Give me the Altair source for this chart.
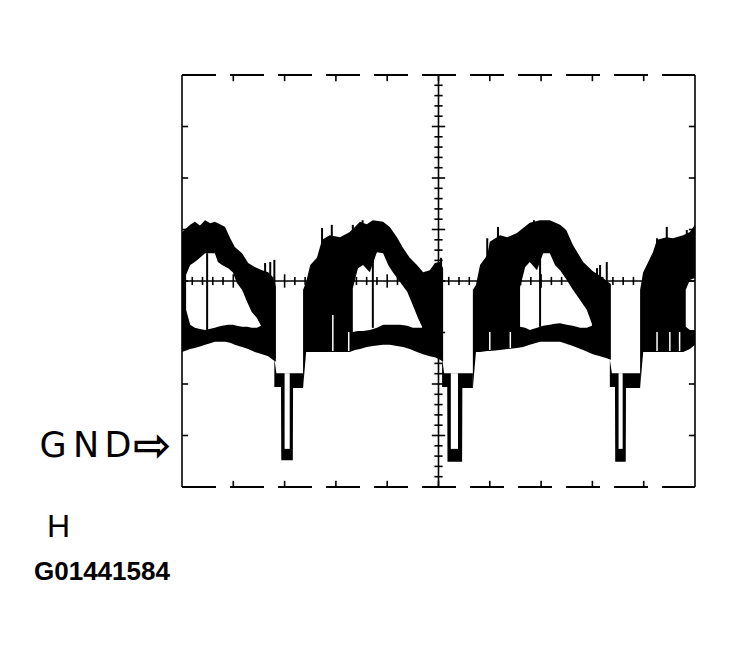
import altair as alt
import pandas as pd

# ---- Oscilloscope screen: 10 x 8 divisions. Trace (divisions). ----
# Filled black band of the noisy trace, per sweep segment: x, upper edge, lower edge
seg_a_x = [0.00, 0.16, 0.25, 0.35, 0.45, 0.55, 0.64, 0.74, 0.84, 0.94, 1.03, 1.17, 1.29, 1.42, 1.56, 1.68, 1.77, 1.83]
seg_a_top = [4.95, 5.09, 5.15, 5.08, 5.18, 5.12, 5.15, 5.10, 5.05, 4.83, 4.66, 4.54, 4.35, 4.27, 4.21, 4.17, 4.08, 3.90]
seg_a_bot = [2.62, 2.68, 2.70, 2.73, 2.76, 2.79, 2.82, 2.82, 2.82, 2.80, 2.76, 2.72, 2.68, 2.62, 2.58, 2.54, 2.47, 2.43]

dip1_x = [1.80, 1.84, 1.93, 1.935, 2.16, 2.165, 2.36]
dip1_top = [2.50, 2.21, 2.21, 2.21, 2.21, 2.21, 2.21]
dip1_bot = [1.94, 1.94, 1.94, 0.52, 0.52, 1.92, 1.92]

seg_b_x = [2.36, 2.42, 2.50, 2.63, 2.73, 2.88, 3.08, 3.27, 3.37, 3.47, 3.60, 3.72, 3.92, 4.05, 4.19, 4.31, 4.44, 4.58, 4.70, 4.83, 4.93, 5.03, 5.09]
seg_b_top = [3.83, 3.98, 4.31, 4.45, 4.80, 4.89, 4.85, 4.95, 5.05, 5.15, 5.10, 5.18, 5.15, 5.05, 4.85, 4.64, 4.45, 4.31, 4.17, 4.21, 4.35, 4.37, 4.25]
seg_b_bot = [1.92, 2.62, 2.62, 2.62, 2.62, 2.62, 2.62, 2.62, 2.66, 2.68, 2.72, 2.74, 2.76, 2.76, 2.74, 2.72, 2.68, 2.62, 2.58, 2.54, 2.52, 2.47, 2.43]

dip2_x = [5.07, 5.11, 5.17, 5.175, 5.46, 5.465, 5.67]
dip2_top = [2.50, 2.21, 2.21, 2.21, 2.21, 2.21, 2.21]
dip2_bot = [1.94, 1.94, 1.94, 0.49, 0.49, 1.92, 1.92]

seg_c_x = [5.67, 5.73, 5.81, 5.95, 6.00, 6.20, 6.34, 6.53, 6.65, 6.78, 6.98, 7.17, 7.37, 7.49, 7.62, 7.82, 8.01, 8.15, 8.28, 8.36]
seg_c_top = [3.83, 3.92, 4.31, 4.50, 4.76, 4.89, 4.85, 4.93, 5.03, 5.13, 5.18, 5.18, 5.09, 4.99, 4.70, 4.37, 4.19, 4.10, 4.00, 3.94]
seg_c_bot = [1.92, 2.62, 2.62, 2.64, 2.64, 2.66, 2.68, 2.70, 2.72, 2.76, 2.82, 2.82, 2.82, 2.78, 2.74, 2.66, 2.58, 2.54, 2.50, 2.47]

dip3_x = [8.34, 8.38, 8.44, 8.445, 8.65, 8.655, 8.93]
dip3_top = [2.47, 2.21, 2.21, 2.21, 2.21, 2.21, 2.21]
dip3_bot = [1.94, 1.94, 1.94, 0.49, 0.49, 1.92, 1.92]

seg_d_x = [8.93, 8.99, 9.06, 9.18, 9.26, 9.45, 9.57, 9.77, 9.90, 10.0]
seg_d_top = [3.83, 4.17, 4.31, 4.56, 4.80, 4.85, 4.83, 4.89, 4.95, 5.09]
seg_d_bot = [1.92, 2.62, 2.62, 2.62, 2.62, 2.62, 2.62, 2.62, 2.68, 2.76]

# Open (white) regions inside the band
hole_a_x = [0.08, 0.16, 0.25, 0.35, 0.45, 0.64, 0.70, 0.78, 0.90, 0.99, 1.07, 1.17, 1.27, 1.36, 1.46, 1.54]
hole_a_top = [4.12, 4.31, 4.37, 4.45, 4.54, 4.54, 4.37, 4.31, 4.25, 4.17, 3.96, 3.83, 3.59, 3.40, 3.28, 3.13]
hole_a_bot = [3.44, 3.15, 3.09, 3.07, 3.05, 3.09, 3.11, 3.13, 3.15, 3.15, 3.13, 3.11, 3.11, 3.09, 3.09, 3.13]

hole_b_x = [3.33, 3.43, 3.53, 3.66, 3.80, 3.92, 4.02, 4.11, 4.25, 4.39, 4.50, 4.60, 4.68]
hole_b_top = [3.86, 4.25, 4.31, 4.17, 4.56, 4.54, 4.31, 4.17, 3.98, 3.79, 3.53, 3.28, 3.11]
hole_b_bot = [3.01, 3.03, 3.03, 3.05, 3.09, 3.15, 3.15, 3.15, 3.15, 3.13, 3.09, 3.09, 3.09]

hole_c_x = [6.59, 6.69, 6.78, 6.92, 7.04, 7.17, 7.27, 7.37, 7.50, 7.62, 7.76, 7.89, 7.99]
hole_c_top = [3.88, 4.27, 4.37, 4.21, 4.54, 4.54, 4.31, 4.21, 4.02, 3.83, 3.63, 3.44, 3.17]
hole_c_bot = [3.11, 3.09, 3.05, 3.09, 3.13, 3.15, 3.17, 3.18, 3.15, 3.13, 3.09, 3.09, 3.13]

hole_d_x = [9.82, 9.90, 10.0]
hole_d_top = [3.83, 4.02, 4.06]
hole_d_bot = [3.11, 3.05, 3.05]

dip_hole_x = [[2.00, 2.10], [5.24, 5.38], [8.51, 8.59]]
dip_hole_top = 2.21
dip_hole_bot = 0.74

# Single noise spikes (x, top, bottom) and white gaps in the lower band
spike_x = [0.49, 1.62, 1.72, 1.80, 2.73, 2.92, 3.33, 3.52, 3.72, 5.05, 5.95, 6.16, 6.86, 6.98, 8.09, 8.15, 8.28, 9.26, 9.45, 9.84]
spike_top = [4.54, 4.35, 4.37, 4.41, 5.03, 5.09, 5.09, 5.18, 4.56, 4.45, 4.83, 5.05, 5.18, 4.54, 4.25, 4.31, 4.37, 4.83, 5.05, 4.99]
spike_bot = [3.05, 4.10, 3.60, 2.50, 4.50, 4.50, 4.80, 5.00, 3.09, 3.50, 4.40, 4.60, 5.00, 3.11, 4.00, 4.00, 3.00, 4.60, 4.60, 4.80]

gap_x = [2.94, 3.25, 6.00, 6.40, 9.26, 9.51, 9.70]
gap_top = [3.34, 3.01, 3.01, 3.01, 3.01, 3.01, 3.01]
gap_bot = [2.64, 2.64, 2.66, 2.70, 2.64, 2.64, 2.64]

# ---- tables ----
def band_table(parts):
    rows = []
    for name, xs, tops, bots in parts:
        for x, t, b in zip(xs, tops, bots):
            rows.append({"seg": name, "x": x, "top": t, "bot": b})
    return pd.DataFrame(rows)

band_df = band_table([
    ("A", seg_a_x, seg_a_top, seg_a_bot),
    ("D1", dip1_x, dip1_top, dip1_bot),
    ("B", seg_b_x, seg_b_top, seg_b_bot),
    ("D2", dip2_x, dip2_top, dip2_bot),
    ("C", seg_c_x, seg_c_top, seg_c_bot),
    ("D3", dip3_x, dip3_top, dip3_bot),
    ("D", seg_d_x, seg_d_top, seg_d_bot),
])
hole_parts = [
    ("a", hole_a_x, hole_a_top, hole_a_bot),
    ("b", hole_b_x, hole_b_top, hole_b_bot),
    ("c", hole_c_x, hole_c_top, hole_c_bot),
    ("d", hole_d_x, hole_d_top, hole_d_bot),
]
for k, xs in enumerate(dip_hole_x):
    hole_parts.append((f"u{k}", xs, [dip_hole_top] * 2, [dip_hole_bot] * 2))
hole_df = band_table(hole_parts)

spike_df = pd.DataFrame({"x": spike_x, "top": spike_top, "bot": spike_bot})
gap_df = pd.DataFrame({"x": gap_x, "top": gap_top, "bot": gap_bot})

# graticule
grid_rows = [
    {"x": 0, "x2": 0, "y": 0, "y2": 8},
    {"x": 10, "x2": 10, "y": 0, "y2": 8},
    {"x": 5, "x2": 5, "y": 0, "y2": 8},
    {"x": 0, "x2": 10, "y": 4, "y2": 4},
]
for i in range(1, 40):
    v = i * 0.2
    h = 0.13 if i % 5 == 0 else 0.08
    grid_rows.append({"x": 5 - h, "x2": 5 + h, "y": v, "y2": v})
for i in range(1, 50):
    u = i * 0.2
    h = 0.13 if i % 5 == 0 else 0.08
    grid_rows.append({"x": u, "x2": u, "y": 4 - h, "y2": 4 + h})
for j in range(1, 8):
    grid_rows.append({"x": 0, "x2": 0.12, "y": j, "y2": j})
    grid_rows.append({"x": 9.88, "x2": 10, "y": j, "y2": j})
for j in range(1, 10):
    grid_rows.append({"x": j, "x2": j, "y": 0, "y2": 0.12})
    grid_rows.append({"x": j, "x2": j, "y": 7.88, "y2": 8})
grid_df = pd.DataFrame(grid_rows)
edge_df = pd.DataFrame({"x": [0, 0], "x2": [10, 10], "y": [0, 8], "y2": [0, 8]})

X = alt.Scale(domain=[0, 10], nice=False, zero=False)
Y = alt.Scale(domain=[0, 8], nice=False, zero=False)

band = alt.Chart(band_df).mark_area(color="black", opacity=1, orient="vertical", interpolate="linear").encode(
    x=alt.X("x:Q", scale=X, axis=None),
    y=alt.Y("top:Q", scale=Y, axis=None),
    y2="bot:Q",
    detail="seg:N",
)
holes = alt.Chart(hole_df).mark_area(color="white", opacity=1, orient="vertical", interpolate="linear").encode(
    x=alt.X("x:Q", scale=X, axis=None),
    y=alt.Y("top:Q", scale=Y, axis=None),
    y2="bot:Q",
    detail="seg:N",
)
spikes = alt.Chart(spike_df).mark_rule(color="black", strokeWidth=2).encode(
    x=alt.X("x:Q", scale=X, axis=None), y=alt.Y("top:Q", scale=Y, axis=None), y2="bot:Q")
gaps = alt.Chart(gap_df).mark_rule(color="white", strokeWidth=1.5).encode(
    x=alt.X("x:Q", scale=X, axis=None), y=alt.Y("top:Q", scale=Y, axis=None), y2="bot:Q")
grid = alt.Chart(grid_df).mark_rule(color="black", strokeWidth=1.6).encode(
    x=alt.X("x:Q", scale=X, axis=None), x2="x2:Q",
    y=alt.Y("y:Q", scale=Y, axis=None), y2="y2:Q")
edges = alt.Chart(edge_df).mark_rule(color="black", strokeWidth=2, strokeDash=[34, 14]).encode(
    x=alt.X("x:Q", scale=X, axis=None), x2="x2:Q",
    y=alt.Y("y:Q", scale=Y, axis=None), y2="y2:Q")

# ---- labels ----
gnd_letters = ["G", "N", "D"]
gnd_pos = [-129, -96, -64]
gnd = alt.Chart(pd.DataFrame({"t": gnd_letters, "px": gnd_pos})).mark_text(
    font="DejaVu Sans", fontSize=35, align="center", baseline="alphabetic", color="black"
).encode(x=alt.X("px:Q", scale=None), y=alt.value(382), text="t:N")
arrow = alt.Chart(pd.DataFrame({"t": ["⇨"]})).mark_text(
    font="DejaVu Sans", fontSize=46, align="center", baseline="alphabetic", color="black", fontWeight="bold"
).encode(x=alt.value(-30), y=alt.value(386), text="t:N")
hlabel = alt.Chart(pd.DataFrame({"t": ["H"]})).mark_text(
    font="Liberation Sans", fontSize=32, align="left", baseline="alphabetic", color="black", fontWeight=300
).encode(x=alt.value(-135), y=alt.value(462), text="t:N")
code = alt.Chart(pd.DataFrame({"t": ["G01441584"]})).mark_text(
    font="Liberation Sans", fontSize=26, align="left", baseline="alphabetic", color="black", fontWeight="bold"
).encode(x=alt.value(-148), y=alt.value(505), text="t:N")

chart = alt.layer(band, holes, spikes, gaps, grid, edges, gnd, arrow, hlabel, code).properties(
    width=513, height=412, autosize="none",
    padding={"left": 174, "top": 67, "right": 30, "bottom": 110},
    background="white",
).configure_view(stroke=None)

chart.save("out.html", embed_options={"renderer": "svg", "actions": False})
